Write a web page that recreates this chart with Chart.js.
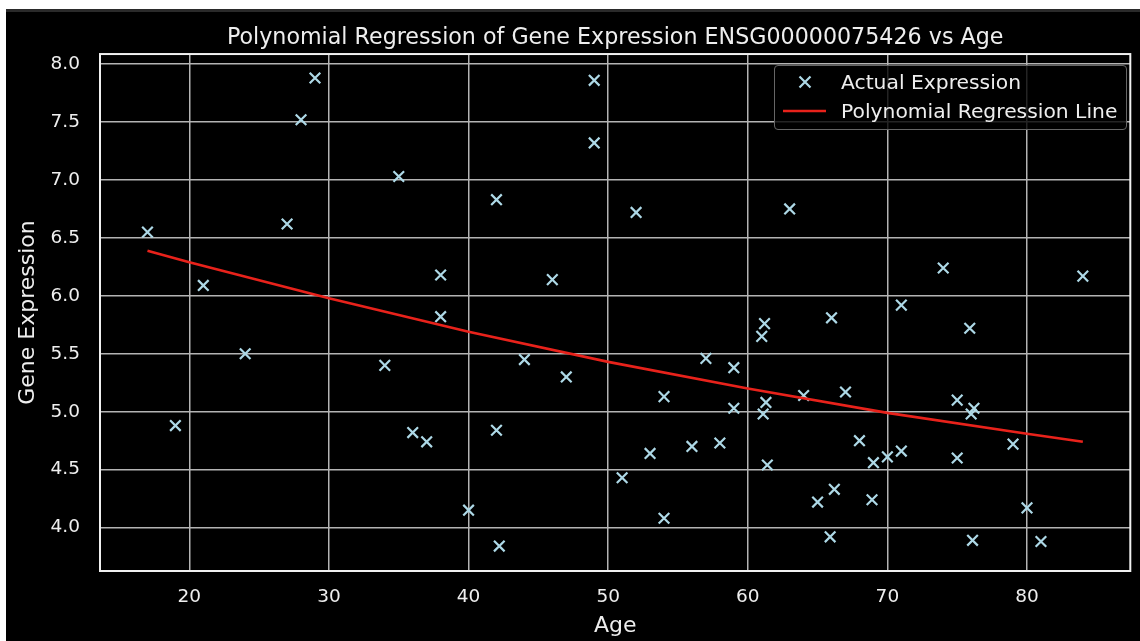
<!DOCTYPE html>
<html>
<head>
<meta charset="utf-8">
<script src="https://cdn.jsdelivr.net/npm/chart.js@4.4.1/dist/chart.umd.min.js"></script>
<style>
    html, body { margin: 0; padding: 0; background: #ffffff; width: 1140px; height: 641px; overflow: hidden; }
    #wrap { position: absolute; left: 6px; top: 9px; width: 1134px; height: 632px; background: #000; border-top: 3px solid #2a2a2a; box-sizing: border-box; }
    #chart-js { display: block; }
    #legend { position: absolute; left: 774px; top: 65px; width: 353px; height: 65px; box-sizing: border-box;
        border: 1.5px solid #666; border-radius: 4px; background: rgba(0, 0, 0, 0.8);
        font-family: "DejaVu Sans", sans-serif; font-size: 20.3px; color: #eeeeee; }
    #legend .row { position: absolute; left: 0; height: 26px; line-height: 26px; white-space: nowrap; }
    #legend svg { position: absolute; left: 8px; top: 3px; }
    #legend span { position: absolute; left: 66px; top: 0; }
</style>
</head>
<body>
<div id="wrap"><canvas id="chart-js" width="1134" height="629"></canvas></div>
<div id="legend"></div>
<script>
const titleText = 'Polynomial Regression of Gene Expression ENSG00000075426 vs Age';
const xLabel = 'Age';
const yLabel = 'Gene Expression';

const ages = [17, 19, 21, 24, 27, 28, 29, 34, 35, 36, 37, 38, 38, 40, 42, 42, 42.2, 44, 46, 47,
    49, 49, 51, 52, 53, 54, 54, 56, 57, 58, 59, 59, 61, 61.2, 61.3, 61.1, 61.4, 63, 64, 65,
    66, 66.2, 65.9, 67, 68, 69, 68.9, 70, 71, 71, 74, 75, 75, 75.9, 76.2, 76, 76.1, 79, 80, 81, 84];
const expression = [6.55, 4.88, 6.09, 5.50, 6.62, 7.52, 7.88, 5.40, 7.03, 4.82, 4.74, 6.18, 5.82, 4.15, 6.83, 4.84, 3.84, 5.45, 6.14, 5.30,
    7.86, 7.32, 4.43, 6.72, 4.64, 5.13, 4.08, 4.70, 5.46, 4.73, 5.38, 5.03, 5.65, 5.76, 5.08, 4.98, 4.54, 6.75, 5.14, 4.22,
    5.81, 4.33, 3.92, 5.17, 4.75, 4.56, 4.24, 4.61, 5.92, 4.66, 6.24, 5.10, 4.60, 5.72, 5.03, 4.98, 3.89, 4.72, 4.17, 3.88, 6.17];

const fitAges = [17, 20, 30, 40, 50, 60, 70, 80, 84];
const fitValues = [6.39, 6.29, 5.98, 5.69, 5.43, 5.20, 4.99, 4.81, 4.74];

const xTicks = [20, 30, 40, 50, 60, 70, 80];
const yTicks = [4.0, 4.5, 5.0, 5.5, 6.0, 6.5, 7.0, 7.5, 8.0];

const seriesNames = ['Actual Expression', 'Polynomial Regression Line'];
const pointColor = '#add8e6';
const lineColor = '#e8221b';
const textColor = '#eeeeee';
const font = 'DejaVu Sans';

const frame = {
    id: 'frame',
    beforeDatasetsDraw(chart) {
        const { ctx, chartArea: a } = chart;
        ctx.save();
        ctx.strokeStyle = '#f0f0f0';
        ctx.lineWidth = 2;
        ctx.strokeRect(a.left, a.top, a.right - a.left, a.bottom - a.top);
        ctx.restore();
    }
};

const data = {
    datasets: [
        {
            type: 'scatter',
            label: seriesNames[0],
            data: ages.map((a, i) => ({ x: a, y: expression[i] })),
            pointStyle: 'crossRot',
            pointRadius: 7.5,
            pointHoverRadius: 7.5,
            borderWidth: 2.2,
            borderColor: pointColor,
            backgroundColor: pointColor,
            order: 2
        },
        {
            type: 'line',
            label: seriesNames[1],
            data: fitAges.map((a, i) => ({ x: a, y: fitValues[i] })),
            borderColor: lineColor,
            borderWidth: 2.6,
            pointRadius: 0,
            tension: 0,
            fill: false,
            order: 1
        }
    ]
};

const config = {
    type: 'scatter',
    data: data,
    plugins: [frame],
    options: {
        responsive: false,
        animation: false,
        layout: { padding: { left: 0, right: 3, top: 0, bottom: 0 } },
        plugins: {
            legend: { display: false },
            tooltip: { enabled: false },
            title: {
                display: true,
                text: titleText,
                fullSize: false,
                color: textColor,
                font: { family: font, size: 22.2, weight: 'normal' },
                padding: { top: 13, bottom: 2.4 }
            }
        },
        scales: {
            x: {
                type: 'linear',
                min: 13.6,
                max: 87.4,
                afterBuildTicks: s => { s.ticks = xTicks.map(v => ({ value: v })); },
                afterFit: s => { s.height = 70; },
                grid: { color: '#b4b4b4', lineWidth: 1.5, drawTicks: false },
                border: { display: false },
                ticks: { color: textColor, padding: 15, font: { family: font, size: 18.5 }, callback: v => String(v) },
                title: { display: true, text: xLabel, color: textColor, font: { family: font, size: 22 }, padding: { top: 0, bottom: 2 } }
            },
            y: {
                type: 'linear',
                min: 3.625,
                max: 8.087,
                afterBuildTicks: s => { s.ticks = yTicks.map(v => ({ value: v })); },
                afterFit: s => { s.width = 94; },
                grid: { color: '#b4b4b4', lineWidth: 1.5, drawTicks: false },
                border: { display: false },
                ticks: { color: textColor, padding: 20, font: { family: font, size: 18.5 }, callback: v => Number(v).toFixed(1) },
                title: { display: true, text: yLabel, color: textColor, font: { family: font, size: 22 }, padding: { top: 9, bottom: 0 } }
            }
        }
    }
};

const ctx = document.getElementById('chart-js');
const chart = new Chart(ctx, config);

// legend in html, same layout as the original box in the upper right
const legend = document.getElementById('legend');
const marks = [
    '<svg width="44" height="20"><path d="M16.5 4.5 L27.5 15.5 M27.5 4.5 L16.5 15.5" stroke="' + pointColor + '" stroke-width="2.2"/></svg>',
    '<svg width="44" height="20"><line x1="0" y1="10" x2="43" y2="10" stroke="' + lineColor + '" stroke-width="2.6"/></svg>'
];
seriesNames.forEach((name, i) => {
    const row = document.createElement('div');
    row.className = 'row';
    row.style.top = (i === 0 ? 3 : 32) + 'px';
    row.style.width = '100%';
    row.innerHTML = marks[i] + '<span>' + name + '</span>';
    legend.appendChild(row);
});
</script>
</body>
</html>
